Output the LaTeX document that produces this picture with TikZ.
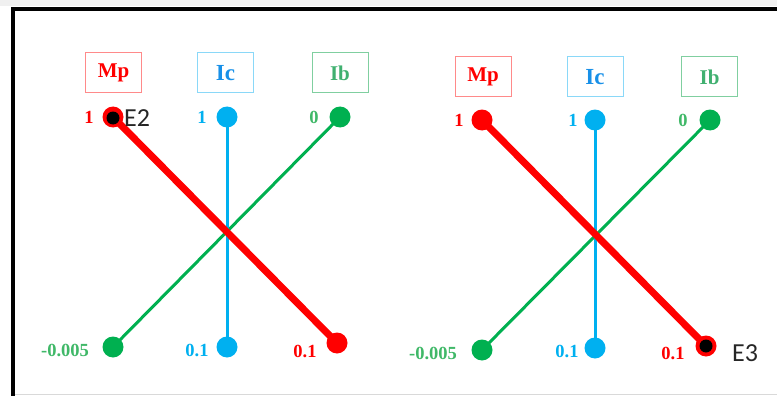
\documentclass[tikz,border=0pt]{standalone}
\usepackage{fontspec}
\setmainfont{Liberation Serif}
\newfontfamily\esans{Carlito}
\usetikzlibrary{backgrounds}
\definecolor{cred}{HTML}{FF0000}
\definecolor{cblue}{HTML}{00B0F0}
\definecolor{cgreen}{HTML}{00B050}
\definecolor{bred}{HTML}{FF8A8A}
\definecolor{bblue}{HTML}{8AD8F8}
\definecolor{bgreen}{HTML}{80CFA0}
\definecolor{tblue}{HTML}{1890E8}
\definecolor{tgreen}{HTML}{40B070}
\definecolor{lgreen}{HTML}{40B868}
\tikzset{
  lbox/.style={draw, line width=1pt, minimum width=56pt, minimum height=40pt, inner sep=0pt,
    font=\bfseries\fontsize{21}{21}\selectfont},
  dot/.style={circle, fill, inner sep=0pt, minimum size=21pt},
  core/.style={circle, fill=black, inner sep=0pt, minimum size=13pt},
  val/.style={font=\bfseries\fontsize{18.5}{18.5}\selectfont, inner sep=0pt},
  ename/.style={font=\esans\fontsize{26}{26}\selectfont, inner sep=0pt, text=black!85}
}
\begin{document}
\begin{tikzpicture}[x=1pt,y=-1pt]
\useasboundingbox (0,0) rectangle (777,396);
\fill[black!6] (0,0) rectangle (777,6);
\draw[line width=4pt] (13,396) -- (13,9) -- (777,9);
\draw[black!15, line width=1.5pt] (15,394.5) -- (777,394.5);

% ---------- left panel ----------
\node[lbox, draw=bred, text=cred] (mpboxL) at (113.5,73) {Mp};
\node[lbox, draw=bblue, text=tblue, font=\bfseries\fontsize{23}{23}\selectfont] (icboxL) at (225.5,73) {Ic};
\node[lbox, draw=bgreen, text=tgreen] (ibboxL) at (340,73) {Ib};

\node[dot, fill=cred] (mptL) at (113,117) {};
\node[dot, fill=cblue] (ictL) at (227,117) {};
\node[dot, fill=cgreen] (ibtL) at (340,117) {};
\node[dot, fill=cgreen] (ibbL) at (113,347) {};
\node[dot, fill=cblue] (icbL) at (227,347) {};
\node[dot, fill=cred] (mpbL) at (337,343) {};
\node[core] (e2dot) at (113,118) {};

\begin{scope}[on background layer]
\draw[cgreen, line width=3pt] (ibbL.center) -- (ibtL.center);
\draw[cblue, line width=3pt] (ictL.center) -- (icbL.center);
\draw[cred, line width=7pt] (mptL.center) -- (mpbL.center);
\end{scope}

\node[val, text=cred] (v1L) at (89,117) {1};
\node[val, text=cblue] (v2L) at (202,117) {1};
\node[val, text=lgreen] (v3L) at (314,117) {0};
\node[val, text=lgreen] (v4L) at (65,350) {-0.005};
\node[val, text=cblue] (v5L) at (197,350) {0.1};
\node[val, text=cred] (v6L) at (305,351) {0.1};
\node[ename, anchor=west] (e2) at (124,118) {E2};

% ---------- right panel ----------
\node[lbox, draw=bred, text=cred] (mpboxR) at (483,77) {Mp};
\node[lbox, draw=bblue, text=tblue, font=\bfseries\fontsize{23}{23}\selectfont] (icboxR) at (595,77) {Ic};
\node[lbox, draw=bgreen, text=tgreen] (ibboxR) at (709.5,77) {Ib};

\node[dot, fill=cred] (mptR) at (482,120) {};
\node[dot, fill=cblue] (ictR) at (595,120) {};
\node[dot, fill=cgreen] (ibtR) at (710,120) {};
\node[dot, fill=cgreen] (ibbR) at (482,350) {};
\node[dot, fill=cblue] (icbR) at (595,348) {};
\node[dot, fill=cred] (mpbR) at (706,346) {};
\node[core] (e3dot) at (706,346) {};

\begin{scope}[on background layer]
\draw[cgreen, line width=3pt] (ibbR.center) -- (ibtR.center);
\draw[cblue, line width=3pt] (ictR.center) -- (icbR.center);
\draw[cred, line width=7pt] (mptR.center) -- (mpbR.center);
\end{scope}

\node[val, text=cred] (v1R) at (459,120) {1};
\node[val, text=cblue] (v2R) at (573,120) {1};
\node[val, text=lgreen] (v3R) at (683,120) {0};
\node[val, text=lgreen] (v4R) at (433,353) {-0.005};
\node[val, text=cblue] (v5R) at (567,351) {0.1};
\node[val, text=cred] (v6R) at (673,353) {0.1};
\node[ename, anchor=west] (e3) at (732,353) {E3};
\end{tikzpicture}
\end{document}
